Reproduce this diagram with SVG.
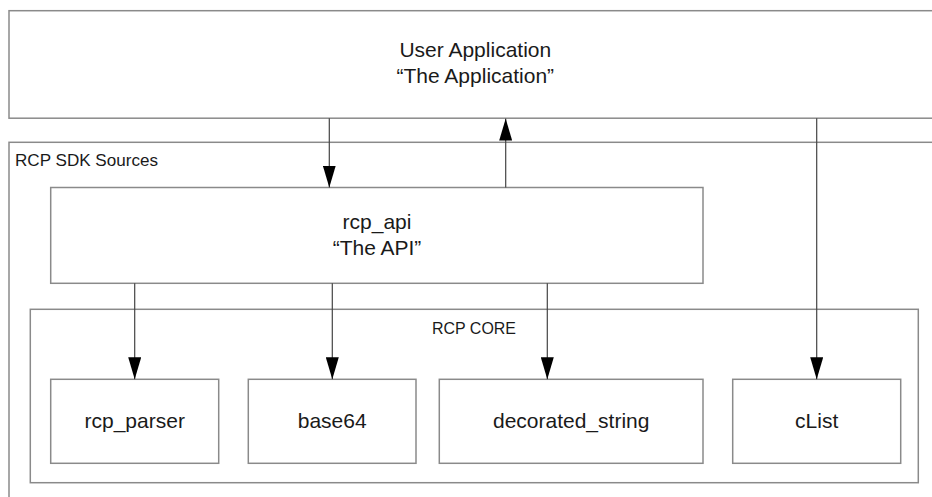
<svg xmlns="http://www.w3.org/2000/svg" width="932" height="497" viewBox="0 0 932 497">
  <style>
    .box { fill: #ffffff; stroke: #8a8a8a; stroke-width: 1.5; }
    .frame { fill: none; stroke: #8a8a8a; stroke-width: 1.5; }
    .lbl { font-family: "Liberation Sans", Arial, Helvetica, sans-serif; font-size: 21px; fill: #1a1a1a; text-anchor: middle; }
    .grp { font-family: "Liberation Sans", Arial, sans-serif; font-size: 16.5px; fill: #1a1a1a; }
    .conn { stroke: #444444; stroke-width: 1.2; fill: none; }
  </style>
  <defs>
    <marker id="arrow" markerUnits="userSpaceOnUse" markerWidth="22" markerHeight="13" refX="22" refY="6.5" orient="auto">
      <path d="M0,0 L22,6.5 L0,13 z" fill="#000000"/>
    </marker>
  </defs>
  <rect width="932" height="497" fill="#ffffff"/>

  <g id="user-application">
    <rect class="box" x="9" y="10.7" width="940" height="107.5"/>
    <text class="lbl" x="475.3" y="57.3">User Application</text>
    <text class="lbl" x="475.3" y="83.3">“The Application”</text>
  </g>

  <g id="rcp-sdk-sources">
    <rect class="frame" x="9" y="142.3" width="940" height="370"/>
    <text class="grp" x="15" y="166" textLength="143" lengthAdjust="spacingAndGlyphs">RCP SDK Sources</text>
  </g>

  <g id="rcp-api">
    <rect class="box" x="50.7" y="187.5" width="652.3" height="95.8"/>
    <text class="lbl" x="377" y="229">rcp_api</text>
    <text class="lbl" x="377" y="255">“The API”</text>
  </g>

  <g id="rcp-core">
    <rect class="frame" x="30.3" y="309.3" width="888" height="173.4"/>
    <text class="grp" x="474" y="334" text-anchor="middle" textLength="84" lengthAdjust="spacingAndGlyphs">RCP CORE</text>
  </g>

  <g id="rcp-parser">
    <rect class="box" x="50.7" y="379.3" width="168" height="84"/>
    <text class="lbl" x="134.7" y="428">rcp_parser</text>
  </g>

  <g id="base64">
    <rect class="box" x="248.3" y="379.3" width="167.7" height="84"/>
    <text class="lbl" x="332.2" y="428">base64</text>
  </g>

  <g id="decorated-string">
    <rect class="box" x="439.3" y="379.3" width="263.7" height="84"/>
    <text class="lbl" x="571.2" y="428">decorated_string</text>
  </g>

  <g id="clist">
    <rect class="box" x="732.7" y="379.3" width="168" height="84"/>
    <text class="lbl" x="816.7" y="428">cList</text>
  </g>

  <g id="connectors">
    <line class="conn" x1="329.3" y1="118.3" x2="329.3" y2="187.5" marker-end="url(#arrow)"/>
    <line class="conn" x1="505.7" y1="187.5" x2="505.7" y2="118.6" marker-end="url(#arrow)"/>
    <line class="conn" x1="816.7" y1="118.3" x2="816.7" y2="379.3" marker-end="url(#arrow)"/>
    <line class="conn" x1="134.7" y1="283.3" x2="134.7" y2="379.3" marker-end="url(#arrow)"/>
    <line class="conn" x1="332.3" y1="283.3" x2="332.3" y2="379.3" marker-end="url(#arrow)"/>
    <line class="conn" x1="547.3" y1="283.3" x2="547.3" y2="379.3" marker-end="url(#arrow)"/>
  </g>
</svg>
